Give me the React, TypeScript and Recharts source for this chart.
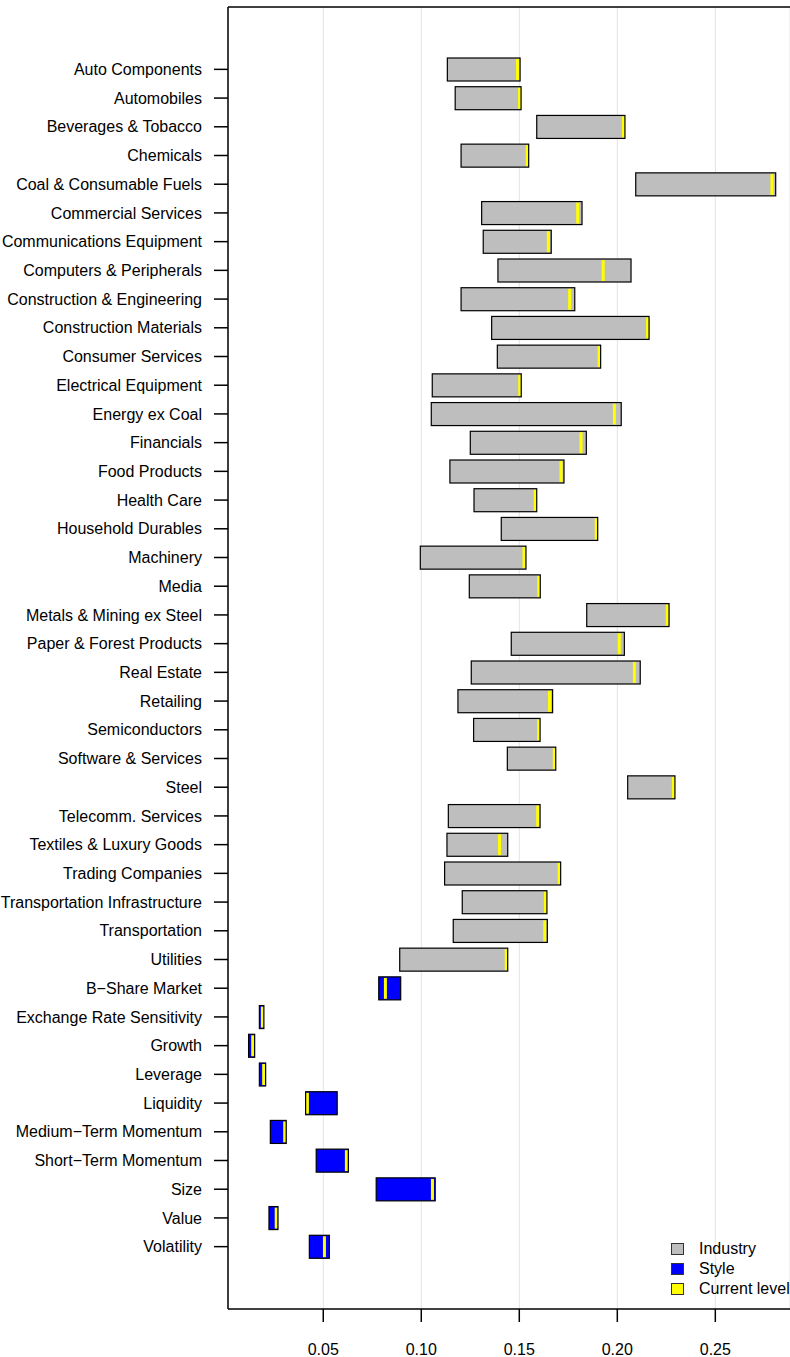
import { BarChart, Bar, XAxis, YAxis, CartesianGrid } from "recharts";

// Facteurs de risque, dans l'ordre d'affichage (haut -> bas)
const factors = [
  "Auto Components", "Automobiles", "Beverages & Tobacco", "Chemicals",
  "Coal & Consumable Fuels", "Commercial Services", "Communications Equipment",
  "Computers & Peripherals", "Construction & Engineering", "Construction Materials",
  "Consumer Services", "Electrical Equipment", "Energy ex Coal", "Financials",
  "Food Products", "Health Care", "Household Durables", "Machinery", "Media",
  "Metals & Mining ex Steel", "Paper & Forest Products", "Real Estate", "Retailing",
  "Semiconductors", "Software & Services", "Steel", "Telecomm. Services",
  "Textiles & Luxury Goods", "Trading Companies", "Transportation Infrastructure",
  "Transportation", "Utilities", "B\u2212Share Market", "Exchange Rate Sensitivity",
  "Growth", "Leverage", "Liquidity", "Medium\u2212Term Momentum",
  "Short\u2212Term Momentum", "Size", "Value", "Volatility",
];

const industryCount = 32;

// Bornes basses / hautes de la plage, et niveau actuel
const lows = [
  0.1133, 0.1173, 0.1589, 0.1203, 0.2094, 0.1308, 0.1316, 0.1391, 0.1203, 0.1359,
  0.1388, 0.1056, 0.1051, 0.1250, 0.1146, 0.1269, 0.1408, 0.0995, 0.1245, 0.1844,
  0.1459, 0.1255, 0.1187, 0.1267, 0.1439, 0.2053, 0.1138, 0.1131, 0.1119, 0.1209,
  0.1163, 0.0890, 0.0783, 0.0174, 0.0119, 0.0174, 0.0410, 0.0230, 0.0464, 0.0770,
  0.0223, 0.0429,
];
const highs = [
  0.1504, 0.1509, 0.2039, 0.1548, 0.2808, 0.1820, 0.1663, 0.2070, 0.1783, 0.2162,
  0.1915, 0.1510, 0.2020, 0.1842, 0.1728, 0.1589, 0.1900, 0.1534, 0.1607, 0.2264,
  0.2036, 0.2117, 0.1670, 0.1606, 0.1686, 0.2294, 0.1606, 0.1441, 0.1711, 0.1641,
  0.1643, 0.1441, 0.0895, 0.0197, 0.0150, 0.0206, 0.0571, 0.0311, 0.0628, 0.1071,
  0.0269, 0.0531,
];
const current = [
  0.1491, 0.1504, 0.2035, 0.1545, 0.2789, 0.1798, 0.1648, 0.1928, 0.1757, 0.2157,
  0.1912, 0.1506, 0.1985, 0.1815, 0.1713, 0.1584, 0.1893, 0.1524, 0.1602, 0.2255,
  0.2010, 0.2087, 0.1654, 0.1600, 0.1679, 0.2289, 0.1594, 0.1399, 0.1709, 0.1640,
  0.1630, 0.1434, 0.0817, 0.0192, 0.0140, 0.0196, 0.0419, 0.0308, 0.0618, 0.1057,
  0.0260, 0.0506,
];

const xTicks = [0.05, 0.10, 0.15, 0.20, 0.25];
const xDomain = [0.0014, 0.2881];

const legendItems = [
  { label: "Industry", color: "#BEBEBE" },
  { label: "Style", color: "#0000FF" },
  { label: "Current level", color: "#FFFF00" },
];

const FONT = "'Liberation Sans', Arial, Helvetica, sans-serif";

const data = factors.map((name, i) => ({
  name,
  group: i < industryCount ? "Industry" : "Style",
  lo: lows[i],
  hi: highs[i],
  cur: current[i],
  range: [lows[i], highs[i]],
}));

// Boîte de la plage + trait jaune pour le niveau actuel
function RangeBox(props: any) {
  const { x, y, width, height, payload } = props;
  if (!payload || width == null) return null;
  const fill = payload.group === "Industry" ? "#BEBEBE" : "#0000FF";
  const t = (payload.cur - payload.lo) / (payload.hi - payload.lo);
  const cx = x + t * width;
  const mx = Math.min(Math.max(cx - 1.5, x), x + width - 3);
  return (
    <g>
      <rect x={x} y={y} width={width} height={height} fill={fill} />
      <rect x={mx} y={y + 1} width={3} height={height - 2} fill="#FFFF00" />
      <rect x={x} y={y} width={width} height={height} fill="none" stroke="#000" strokeWidth={1.2} />
    </g>
  );
}

function LegendBox() {
  return (
    <div
      style={{
        position: "absolute",
        left: 671,
        top: 1239,
        fontFamily: FONT,
        fontSize: 16,
        color: "#000",
        whiteSpace: "nowrap",
      }}
    >
      {legendItems.map((it) => (
        <div key={it.label} style={{ display: "flex", alignItems: "center", height: 20 }}>
          <span
            style={{
              display: "inline-block",
              width: 11,
              height: 10,
              background: it.color,
              border: "1px solid #333",
              marginRight: 15,
            }}
          />
          <span>{it.label}</span>
        </div>
      ))}
    </div>
  );
}

export default function App() {
  return (
    <div style={{ position: "absolute", left: 0, top: 0, width: 790, height: 1357, overflow: "hidden", background: "#fff" }}>
      <BarChart
        width={790}
        height={1357}
        data={data}
        layout="vertical"
        margin={{ top: 6, right: 0, bottom: 0, left: 0 }}
        barSize={23}
      >
        <CartesianGrid horizontal={false} vertical stroke="#E3E3E3" xAxisId={0} />
        <XAxis
          type="number"
          dataKey="cur"
          domain={xDomain}
          ticks={xTicks}
          allowDataOverflow
          tickFormatter={(v: number) => v.toFixed(2)}
          height={48}
          tickSize={13}
          tickMargin={22}
          axisLine={{ stroke: "#000", strokeWidth: 1.5 }}
          tickLine={{ stroke: "#000", strokeWidth: 1.5 }}
          tick={{ fill: "#000", fontSize: 16, fontFamily: FONT }}
        />
        <XAxis
          xAxisId="top"
          orientation="top"
          type="number"
          domain={xDomain}
          ticks={xTicks}
          allowDataOverflow
          height={1}
          tick={false}
          tickLine={false}
          axisLine={{ stroke: "#000", strokeWidth: 1.5 }}
        />
        <YAxis
          type="category"
          dataKey="name"
          width={228}
          interval={0}
          padding={{ top: 48, bottom: 48 }}
          tickSize={14}
          tickMargin={12}
          axisLine={{ stroke: "#000", strokeWidth: 1.5 }}
          tickLine={{ stroke: "#000", strokeWidth: 1.5 }}
          tick={{ fill: "#000", fontSize: 16, fontFamily: FONT }}
        />
        <Bar dataKey="range" shape={<RangeBox />} isAnimationActive={false} />
      </BarChart>
      <LegendBox />
    </div>
  );
}
